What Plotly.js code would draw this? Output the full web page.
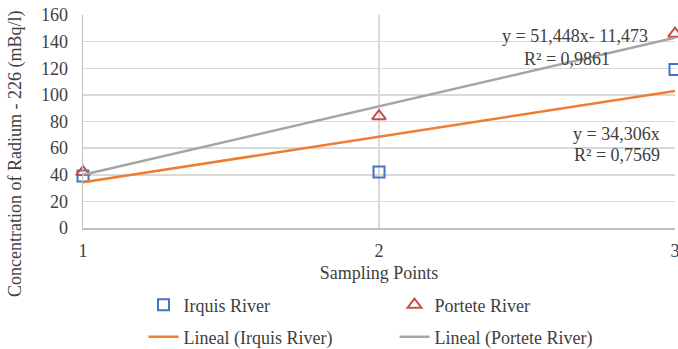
<!DOCTYPE html>
<html>
<head>
<meta charset="utf-8">
<script src="https://cdn.plot.ly/plotly-3.0.1.min.js"></script>
<style>html,body{margin:0;padding:0;background:#fff;}#chart{width:678px;height:349px;}</style>
</head>
<body>
<div id="chart"></div>
<script>
// Data
var samplingPoints = [1, 2, 3];
var irquisRiver = [39, 42, 119];
var porteteRiver = [42, 84, 146];
// Trendline coefficients (slope, intercept) as printed on the chart
var irquisTrend = {slope: 34.306, intercept: 0};
var porteteTrend = {slope: 51.448, intercept: -11.473};
var yTicks = [0, 20, 40, 60, 80, 100, 120, 140, 160];

function trendY(t) { return samplingPoints.map(function (x) { return t.slope * x + t.intercept; }); }

var FONT = 'Liberation Serif, Times New Roman, serif';
var TXT = '#404040';
var FS = 18;

var traces = [
  {x: samplingPoints, y: irquisRiver, name: 'Irquis River', type: 'scatter', mode: 'markers', cliponaxis: false,
   marker: {symbol: 'square-open', size: 11, color: '#4472C4', line: {width: 2, color: '#4472C4'}}, legend: 'legend'},
  {x: samplingPoints, y: porteteRiver, name: 'Portete River', type: 'scatter', mode: 'markers', cliponaxis: false,
   marker: {symbol: 'triangle-up-open', size: 12, color: '#C0504D', line: {width: 2, color: '#C0504D'}}, legend: 'legend'},
  {x: samplingPoints, y: trendY(irquisTrend), name: 'Lineal (Irquis River)', type: 'scatter', mode: 'lines',
   line: {color: '#ED7D31', width: 2.5}, legend: 'legend2'},
  {x: samplingPoints, y: trendY(porteteTrend), name: 'Lineal (Portete River)', type: 'scatter', mode: 'lines',
   line: {color: '#A5A5A5', width: 2.5}, legend: 'legend2'}
];

var legendBase = {orientation: 'h', xref: 'container', yref: 'container', xanchor: 'left', yanchor: 'middle',
  entrywidth: 206, entrywidthmode: 'pixels', font: {family: FONT, size: FS, color: TXT}, bgcolor: 'rgba(0,0,0,0)'};

var layout = {
  width: 678, height: 349,
  margin: {l: 83, r: 3, t: 15, b: 121},
  paper_bgcolor: '#fff', plot_bgcolor: '#fff',
  font: {family: FONT, size: FS, color: TXT},
  showlegend: true,
  legend: Object.assign({}, legendBase, {x: 143.5 / 678, y: 1 - 305 / 349}),
  legend2: Object.assign({}, legendBase, {x: 143.5 / 678, y: 1 - 337 / 349}),
  xaxis: {
    range: [1, 3], tickvals: samplingPoints, ticktext: samplingPoints.map(String),
    showgrid: true, gridcolor: '#d9d9d9', gridwidth: 1.5, zeroline: false,
    showline: true, linecolor: '#bfbfbf', linewidth: 1.5,
    ticks: '', ticklabelstandoff: 6, ticklabeloverflow: 'allow',
    tickfont: {family: FONT, size: FS, color: TXT},
    title: {text: 'Sampling Points', font: {family: FONT, size: FS, color: TXT}, standoff: 6}
  },
  yaxis: {
    range: [0, 160], tickvals: yTicks,
    showgrid: true, gridcolor: '#d9d9d9', gridwidth: 1.5, zeroline: false,
    showline: true, linecolor: '#bfbfbf', linewidth: 1.5,
    ticks: '', ticklabelstandoff: 10,
    tickfont: {family: FONT, size: FS, color: TXT}
  },
  annotations: [
    {xref: 'paper', yref: 'paper', x: (15 - 83) / (678 - 83 - 3), y: (228 - 154) / (228 - 15),
     text: 'Concentration of Radium - 226 (mBq/l)', textangle: -90,
     showarrow: false, font: {family: FONT, size: FS, color: TXT}, xanchor: 'center', yanchor: 'middle'},
    {x: 2.662, y: 144, text: 'y = 51,448x- 11,473', showarrow: false, font: {family: FONT, size: FS, color: TXT}},
    {x: 2.635, y: 127, text: 'R² = 0,9861', showarrow: false, font: {family: FONT, size: FS, color: TXT}},
    {x: 2.804, y: 70.6, text: 'y = 34,306x', showarrow: false, font: {family: FONT, size: FS, color: TXT}},
    {x: 2.804, y: 54.8, text: 'R² = 0,7569', showarrow: false, font: {family: FONT, size: FS, color: TXT}}
  ]
};

Plotly.newPlot('chart', traces, layout, {displayModeBar: false, staticPlot: true});
</script>
</body>
</html>
